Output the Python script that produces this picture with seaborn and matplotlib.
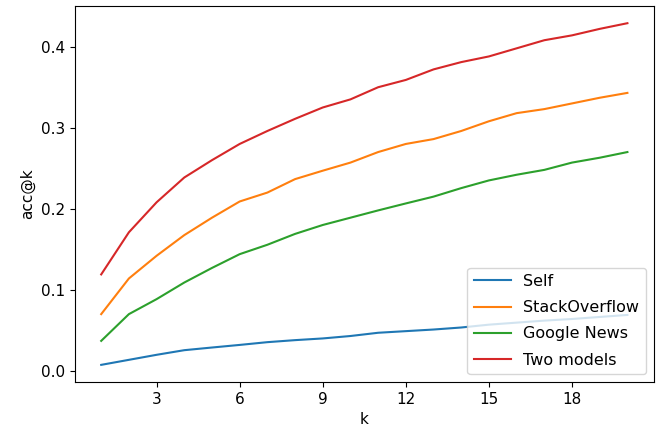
import pandas as pd
import matplotlib.pyplot as plt
import seaborn as sns

# acc@k values
k_values = list(range(1, 21))
self_acc = [0.0074, 0.0136, 0.0198, 0.0255, 0.0288, 0.032, 0.0354, 0.0379, 0.040, 0.043,
            0.047, 0.049, 0.051, 0.0535, 0.057, 0.0595, 0.062, 0.064, 0.0665, 0.069]
stackoverflow_acc = [0.070, 0.114, 0.142, 0.1675, 0.189, 0.209, 0.220, 0.2366, 0.247, 0.257,
                     0.270, 0.280, 0.286, 0.296, 0.308, 0.318, 0.323, 0.330, 0.337, 0.343]
google_news_acc = [0.037, 0.070, 0.0885, 0.109, 0.127, 0.144, 0.1556, 0.169, 0.180, 0.189,
                   0.198, 0.2066, 0.215, 0.2255, 0.235, 0.242, 0.248, 0.257, 0.263, 0.270]
two_models_acc = [0.119, 0.171, 0.208, 0.2386, 0.260, 0.280, 0.296, 0.311, 0.325, 0.335,
                  0.350, 0.359, 0.372, 0.381, 0.388, 0.398, 0.408, 0.414, 0.422, 0.429]
series_names = ["Self", "StackOverflow", "Google News", "Two models"]

df = pd.DataFrame({
    "k": k_values * 4,
    "acc": self_acc + stackoverflow_acc + google_news_acc + two_models_acc,
    "model": [name for name in series_names for _ in k_values],
})

plt.rcParams["font.size"] = 11
fig = plt.figure(figsize=(6.57, 4.37), dpi=100)
# axes box placed to match the reference frame (75..654 px wide, 6..382 px tall)
ax = fig.add_axes([0.114, 0.126, 0.881, 0.860])

sns.lineplot(data=df, x="k", y="acc", hue="model", hue_order=series_names,
             palette="tab10", linewidth=1.5, ax=ax)

ax.set_xticks([3, 6, 9, 12, 15, 18])
ax.set_yticks([0.0, 0.1, 0.2, 0.3, 0.4])
ax.set_xlabel("k")
ax.set_ylabel("acc@k")
ax.legend(loc="lower right", title=None, fontsize=11.5,
          labelspacing=0.7, handlelength=2.3)

fig.savefig("out.png", dpi=100)
